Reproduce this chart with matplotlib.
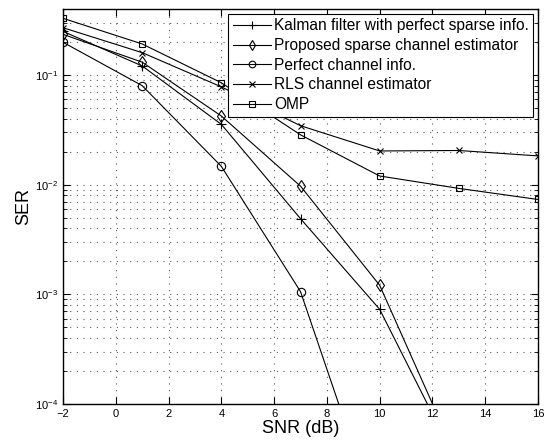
import numpy as np
import matplotlib
matplotlib.use('Agg')
import matplotlib.pyplot as plt
from matplotlib.ticker import LogLocator, NullFormatter

plt.rcParams['font.family'] = ['Liberation Sans', 'DejaVu Sans']

snr = [-2, 1, 4, 7, 10, 13, 16]

# SER curves
kalman = [0.25, 0.121, 0.0355, 0.0049, 0.00073, 2.7e-5]
proposed = [0.235, 0.131, 0.0423, 0.0097, 0.00121, 2.9e-5]
perfect = [0.199, 0.080, 0.0147, 0.00106, 8e-6]
rls = [0.27, 0.160, 0.078, 0.0345, 0.0203, 0.0205, 0.0183]
omp = [0.329, 0.192, 0.085, 0.0285, 0.012, 0.00925, 0.00733]

labels = ['Kalman filter with perfect sparse info.',
          'Proposed sparse channel estimator',
          'Perfect channel info.',
          'RLS channel estimator',
          'OMP']
series = [kalman, proposed, perfect, rls, omp]
markers = ['+', 'd', 'o', 'x', 's']
msizes = [7, 6, 6, 5, 5]

fig = plt.figure(figsize=(5.53, 4.43), dpi=100)
ax = fig.add_axes([63/553, 1 - 404/443, 475/553, 395/443])

for y, lab, m, ms in zip(series, labels, markers, msizes):
    ax.semilogy(snr[:len(y)], y, color='k', lw=0.8, marker=m, ms=ms,
                mfc='none', mec='k', mew=0.8, label=lab)

ax.set_xlim(-2, 16)
ax.set_ylim(1e-4, 0.4)
ax.set_xticks(np.arange(-2, 17, 2))
ax.yaxis.set_major_locator(LogLocator(base=10, numticks=10))
ax.yaxis.set_minor_locator(LogLocator(base=10, subs=np.arange(2, 10), numticks=20))
ax.yaxis.set_minor_formatter(NullFormatter())
grid_style = dict(ls=(0, (1, 5)), color='0.35', lw=0.8)
ax.grid(True, which='major', **grid_style)
ax.grid(True, which='minor', axis='y', **grid_style)
ax.tick_params(which='both', direction='in', top=True, right=True, labelsize=8)
ax.tick_params(which='major', length=5)
ax.tick_params(which='minor', length=3)
for s in ax.spines.values():
    s.set_linewidth(1.0)

ax.set_xlabel('SNR (dB)', fontsize=13, labelpad=1)
ax.set_ylabel('SER', fontsize=13, labelpad=2)

leg = ax.legend(loc='upper right', fontsize=11.2, fancybox=False, framealpha=1,
                edgecolor='k', borderaxespad=0.3, handlelength=2.5,
                handletextpad=0.15, labelspacing=0.3, borderpad=0.3,
                markerscale=0.8)
leg.get_frame().set_linewidth(0.8)

fig.savefig('out.png', dpi=100)
